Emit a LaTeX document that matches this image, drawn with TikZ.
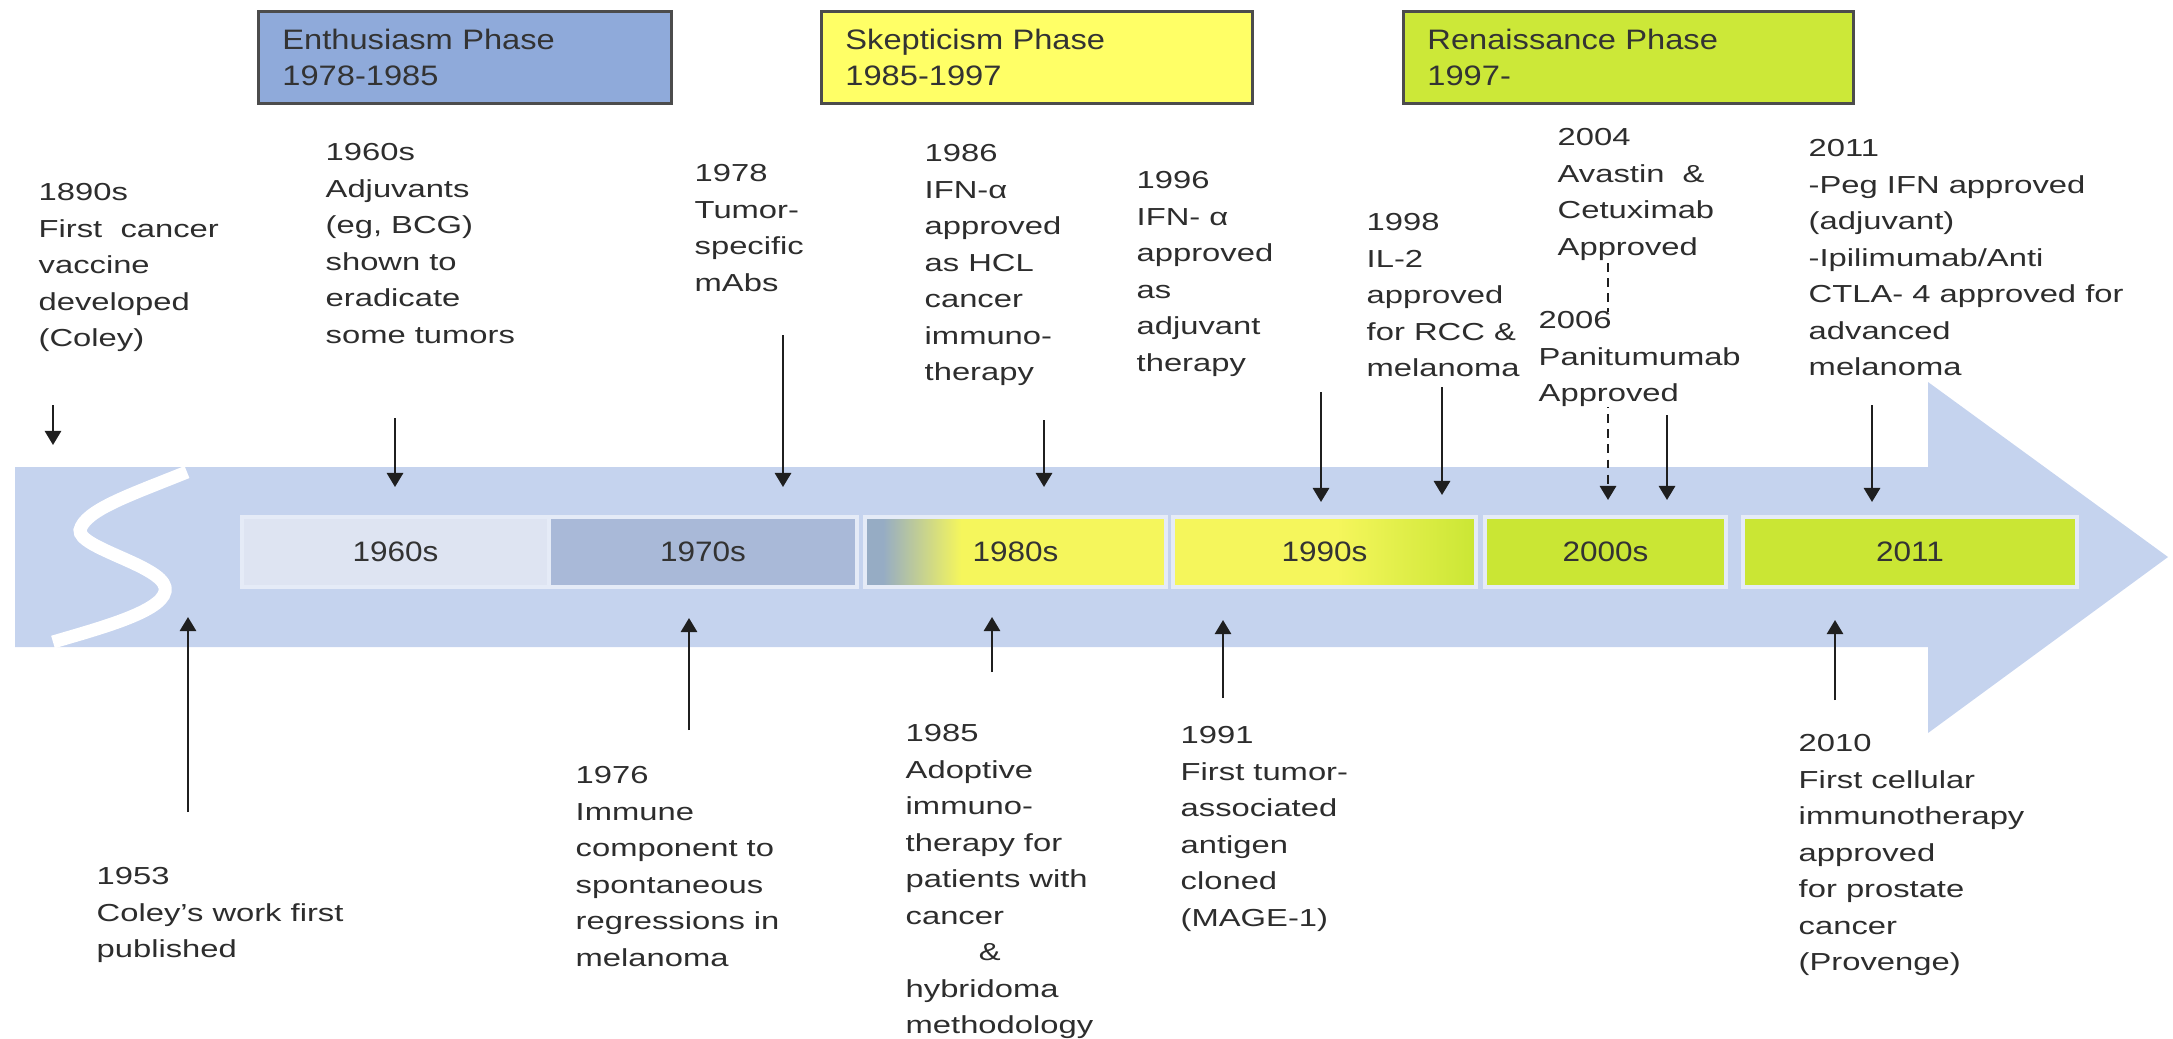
\documentclass[tikz,border=0pt]{standalone}
\usepackage{fontspec}
\setmainfont{Liberation Sans}
\newfontfamily\lblfont[FakeStretch=1.33]{Liberation Sans}
\newfontfamily\phfont[FakeStretch=1.16]{Liberation Sans}
\newfontfamily\decfont[FakeStretch=1.12]{Liberation Sans}
\usetikzlibrary{arrows.meta}
\definecolor{bandcol}{RGB}{197,211,238}
\definecolor{enthcol}{RGB}{143,170,218}
\definecolor{skepcol}{RGB}{255,255,102}
\definecolor{rencol}{RGB}{204,232,56}
\definecolor{sixcol}{RGB}{222,228,242}
\definecolor{sevcol}{RGB}{169,185,216}
\definecolor{grncol}{RGB}{202,230,52}
\definecolor{yelcol}{RGB}{245,246,92}
\definecolor{bgrcol}{RGB}{150,172,196}
\definecolor{lbltext}{RGB}{45,45,45}
\pgfdeclarehorizontalshading{shadeeighty}{100bp}{color(0bp)=(bgrcol); color(25bp)=(bgrcol); color(28bp)=(bgrcol); color(41bp)=(yelcol); color(75bp)=(yelcol); color(100bp)=(yelcol)}
\pgfdeclarehorizontalshading{shadeninety}{100bp}{color(0bp)=(yelcol); color(25bp)=(yelcol); color(52bp)=(yelcol); color(75bp)=(grncol); color(100bp)=(grncol)}
\tikzset{
  lbl/.style={anchor=north west, inner sep=0pt, align=left, text=lbltext,
    font=\lblfont\fontsize{7pt}{10.38pt}\selectfont},
  phasebox/.style={anchor=north west, draw=black!70, line width=0.8pt,
    minimum height=0.92cm, inner xsep=0.24cm, align=left, text=black!80,
    font=\phfont\fontsize{8pt}{10.5pt}\selectfont},
  decbox/.style={draw=white!55!bandcol, line width=1pt, minimum height=0.7cm,
    inner sep=0pt, text=black!80, font=\decfont\fontsize{8pt}{9pt}\selectfont},
  evarrow/.style={draw=black!88, line width=0.7pt, -{Triangle[length=4pt,width=4.6pt]}},
  dasharrow/.style={evarrow, dash pattern=on 2.5pt off 1.8pt}
}
\begin{document}
\begin{tikzpicture}[x=0.01cm, y=-0.01cm]
\useasboundingbox (0,0) rectangle (2173,1038);
% big arrow band
\fill[bandcol] (15,467) -- (1928,467) -- (1928,382) -- (2168,557) -- (1928,733) -- (1928,647) -- (15,647) -- cycle;
% white S
\draw[white, line width=0.13cm] (187,472) .. controls (130,495) and (85,510) .. (80,530)
  .. controls (78,548) and (160,565) .. (165,587) .. controls (170,610) and (100,628) .. (53,642);
% decade boxes
\node[decbox, fill=sixcol, minimum width=3.07cm] (d60) at (395.5,552) {1960s};
\node[decbox, fill=sevcol, minimum width=3.08cm] (d70) at (703,552) {1970s};
\node[decbox, shade, shading=shadeeighty, minimum width=3.01cm] (d80) at (1015.5,552) {1980s};
\node[decbox, shade, shading=shadeninety, minimum width=3.03cm] (d90) at (1324.5,552) {1990s};
\node[decbox, fill=grncol, minimum width=2.41cm] (d00) at (1605.5,552) {2000s};
\node[decbox, fill=grncol, minimum width=3.34cm] (d11) at (1910,552) {2011};
% phase boxes
\node[phasebox, fill=enthcol, text width=3.65cm] (ph1) at (257,10) {Enthusiasm Phase\\1978-1985};
\node[phasebox, fill=skepcol, text width=3.83cm] (ph2) at (820,10) {Skepticism Phase\\1985-1997};
\node[phasebox, fill=rencol, text width=4.02cm] (ph3) at (1402,10) {Renaissance Phase\\1997-};
% dashed connector (drawn before the 2006 label, which covers it)
\coordinate (s2004) at (1608,263);
\coordinate (e2004) at (1608,500);
\draw[dasharrow] (s2004) -- (e2004);
% top labels
\node[lbl] (l1890) at (38,183) {1890s\\First\ \ cancer\\vaccine\\developed\\(Coley)};
\node[lbl] (l1960) at (325,143) {1960s\\Adjuvants\\(eg, BCG)\\shown to\\eradicate\\some tumors};
\node[lbl] (l1978) at (694,164) {1978\\Tumor-\\specific\\mAbs};
\node[lbl] (l1986) at (924,144) {1986\\IFN-α\\approved\\as HCL\\cancer\\immuno-\\therapy};
\node[lbl] (l1996) at (1136,171) {1996\\IFN- α\\approved\\as\\adjuvant\\therapy};
\node[lbl] (l1998) at (1366,213) {1998\\IL-2\\approved\\for RCC \&\\melanoma};
\node[lbl] (l2004) at (1557,128) {2004\\Avastin\ \ \&\\Cetuximab\\Approved};
\node[lbl, fill=white] (l2006) at (1538,311) {2006\\Panitumumab\\Approved};
\node[lbl] (l2011) at (1808,139) {2011\\-Peg IFN approved\\(adjuvant)\\-Ipilimumab/Anti\\CTLA- 4 approved for\\advanced\\melanoma};
% bottom labels
\node[lbl] (l1953) at (96,867) {1953\\Coley’s work first\\published};
\node[lbl] (l1976) at (575,766) {1976\\Immune\\component to\\spontaneous\\regressions in\\melanoma};
\node[lbl] (l1985) at (905,724) {1985\\Adoptive\\immuno-\\therapy for\\patients with\\cancer\\\hspace*{0.73cm}\&\\hybridoma\\methodology};
\node[lbl] (l1991) at (1180,726) {1991\\First tumor-\\associated\\antigen\\cloned\\(MAGE-1)};
\node[lbl] (l2010) at (1798,734) {2010\\First cellular\\immunotherapy\\approved\\for prostate\\cancer\\(Provenge)};
% arrow coordinates
\coordinate (s1890) at (53,405);   \coordinate (e1890) at (53,445);
\coordinate (s1960) at (395,418);  \coordinate (e1960) at (395,487);
\coordinate (s1978) at (783,335);  \coordinate (e1978) at (783,487);
\coordinate (s1986) at (1044,420); \coordinate (e1986) at (1044,487);
\coordinate (s1996) at (1321,392); \coordinate (e1996) at (1321,502);
\coordinate (s1998) at (1442,387); \coordinate (e1998) at (1442,495);
\coordinate (s2006) at (1667,415); \coordinate (e2006) at (1667,500);
\coordinate (s2011) at (1872,405); \coordinate (e2011) at (1872,502);
\coordinate (s1953) at (188,812);  \coordinate (e1953) at (188,617);
\coordinate (s1976) at (689,730);  \coordinate (e1976) at (689,618);
\coordinate (s1985) at (992,672);  \coordinate (e1985) at (992,617);
\coordinate (s1991) at (1223,698); \coordinate (e1991) at (1223,620);
\coordinate (s2010) at (1835,700); \coordinate (e2010) at (1835,620);
\foreach \k in {1890,1960,1978,1986,1996,1998,2006,2011,1953,1976,1985,1991,2010}
  \draw[evarrow] (s\k) -- (e\k);
\end{tikzpicture}
\end{document}
